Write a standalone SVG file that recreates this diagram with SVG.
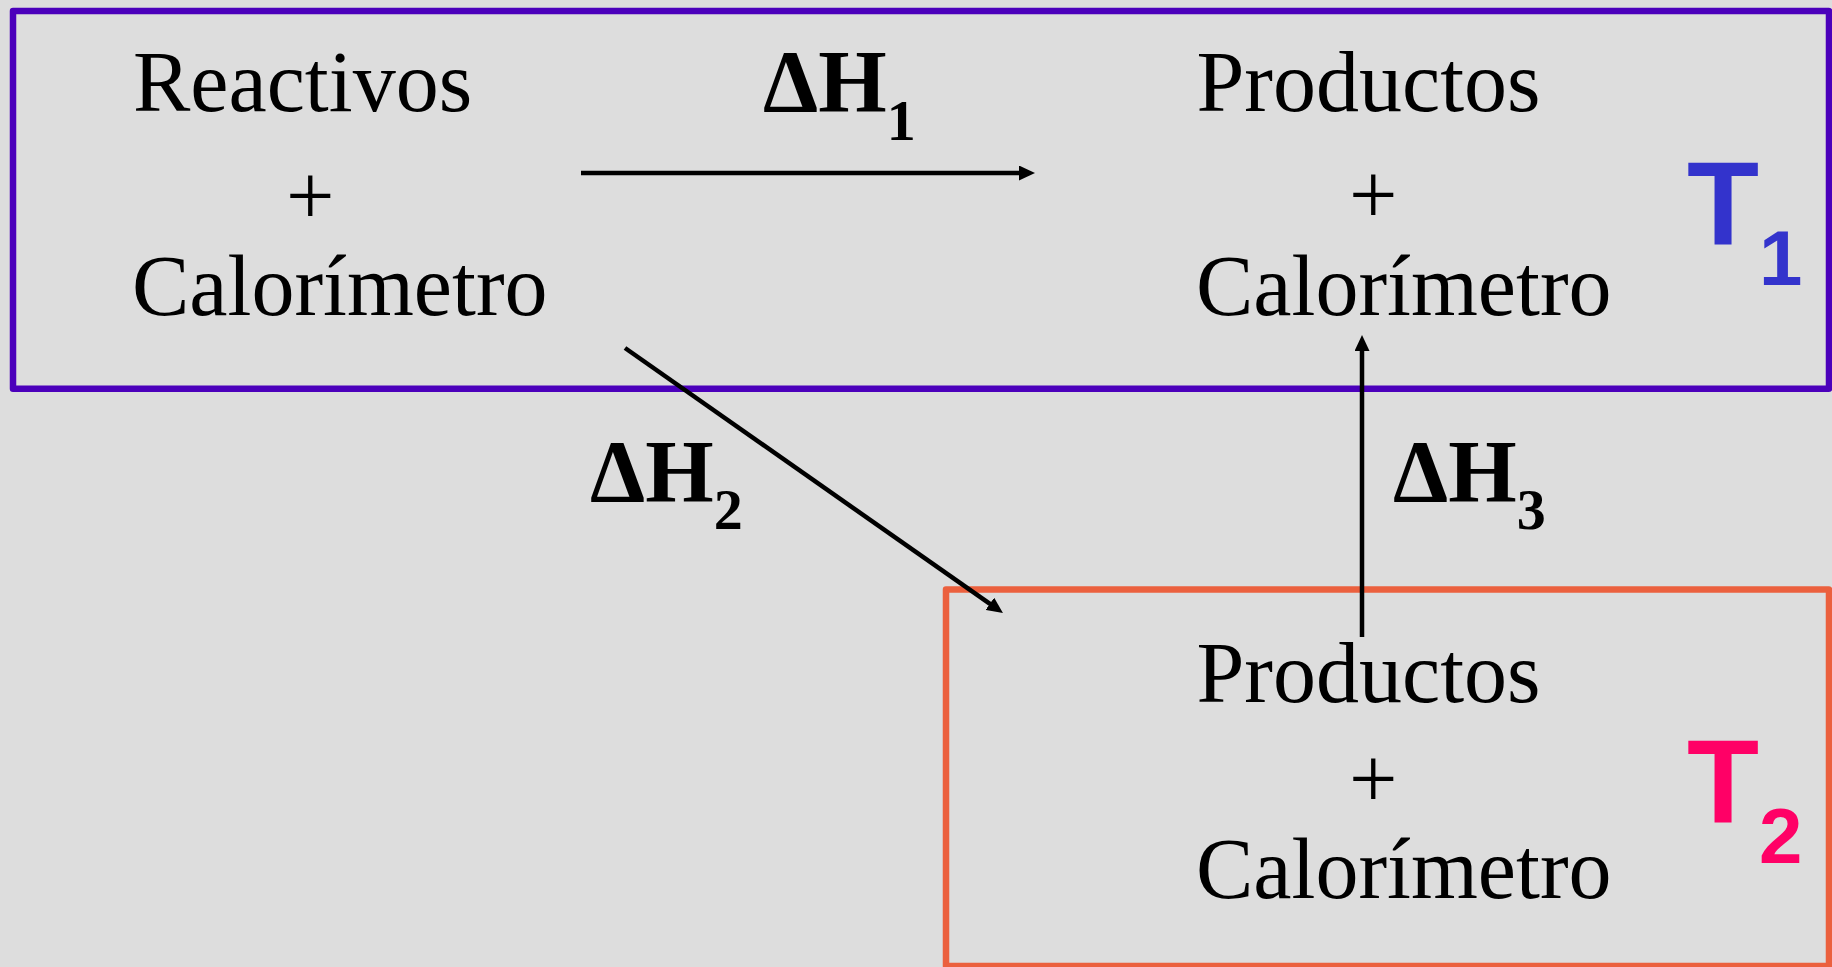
<svg xmlns="http://www.w3.org/2000/svg" width="1832" height="967" viewBox="0 0 1832 967">
<style>
.lbl{font-family:"Liberation Serif","Times New Roman",serif;font-size:86px;fill:#000}
.dh{font-family:"Liberation Serif","Times New Roman",serif;font-size:88px;font-weight:bold;fill:#000}
.sub{font-size:58px}
.t{font-family:"Liberation Sans",Arial,sans-serif;font-size:118px;font-weight:bold}
.tsub{font-size:78px}
.box{fill:none;stroke-width:6.5;stroke-linejoin:round}
.conn{stroke:#000;stroke-width:4.5;fill:none;marker-end:url(#ah)}
</style>
<defs>
<marker id="ah" markerUnits="userSpaceOnUse" viewBox="0 0 16 15" markerWidth="16" markerHeight="15" refX="8" refY="7.5" orient="auto">
<path d="M0,0 L16,7.5 L0,15 Z" fill="#000"/>
</marker>
</defs>
<rect x="0" y="0" width="1832" height="967" fill="#DDDDDD"/>
<g id="T1-box">
<rect class="box" x="13" y="11" width="1816" height="377.7" stroke="#4B00BB"/>
<text class="t" x="1687" y="245" fill="#3333CC">T<tspan class="tsub" dy="40">1</tspan></text>
</g>
<g id="T2-box">
<rect class="box" x="946" y="589.5" width="883" height="376.5" stroke="#EB603E"/>
<text class="t" x="1687" y="823.3" fill="#FF0066">T<tspan class="tsub" dy="40">2</tspan></text>
</g>
<g id="reactivos">
<text class="lbl" x="133" y="111">Reactivos</text>
<text class="lbl" x="286" y="225">+</text>
<text class="lbl" x="132" y="315">Calorímetro</text>
</g>
<g id="productos-T1">
<text class="lbl" x="1196.5" y="111">Productos</text>
<text class="lbl" x="1349" y="224">+</text>
<text class="lbl" x="1196" y="315">Calorímetro</text>
</g>
<g id="productos-T2">
<text class="lbl" x="1196.5" y="702">Productos</text>
<text class="lbl" x="1349" y="808">+</text>
<text class="lbl" x="1196" y="898">Calorímetro</text>
</g>
<g id="connectors">
<line class="conn" x1="581" y1="173" x2="1027" y2="173"/>
<line class="conn" x1="625" y1="348" x2="996.4" y2="608.4"/>
<line class="conn" x1="1362" y1="637" x2="1362" y2="343"/>
<text class="dh" x="763" y="111">ΔH<tspan class="sub" dy="29">1</tspan></text>
<text class="dh" x="590" y="500.7">ΔH<tspan class="sub" dy="28.5">2</tspan></text>
<text class="dh" x="1393" y="500.7">ΔH<tspan class="sub" dy="28.5">3</tspan></text>
</g>
</svg>
